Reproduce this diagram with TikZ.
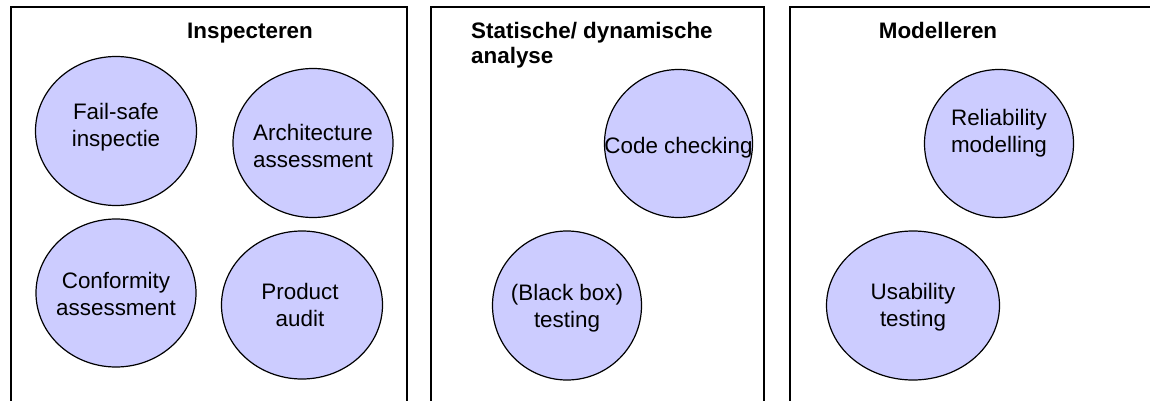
\documentclass[tikz,border=0pt]{standalone}
\usepackage{fontspec}
\setmainfont{Liberation Sans}
\usetikzlibrary{shapes.geometric}

\definecolor{bubblefill}{RGB}{204,204,255}

\begin{document}
\begin{tikzpicture}[x=1pt, y=-1pt, node distance=162pt]
		 \tikzstyle{panel} = [draw=black, line width=1.2pt];
		 \tikzstyle{bubble} = [ellipse, draw=black, line width=1.2pt, fill=bubblefill, inner sep=0pt, minimum width=160pt, minimum height=148pt];
		 \tikzstyle{bubbletext} = [align=center, inner sep=0pt, font=\fontsize{22.4}{27}\selectfont];
		 \tikzstyle{heading} = [inner sep=0pt, font=\fontsize{22.4}{25.5}\selectfont\bfseries];

		 \path [use as bounding box, fill=white] (0,0) rectangle (1150,401);
		 \clip (0,0) rectangle (1150,401);

		 \draw [panel] (11,7) rectangle (407,430);
		 \draw [panel] (431,7) rectangle (764,430);
		 \draw [panel] (790,7) rectangle (1180,430);

		 \node [heading, anchor=base]            (insp)  at (250,39)    {Inspecteren};
		 \node [heading, anchor=north west, align=left] (anal) at (471,21.6) {Statische/ dynamische\\analyse};
		 \node [heading, anchor=base]            (model) at (938,39)    {Modelleren};

		 \node [bubble, minimum width=161pt, minimum height=149pt] (failsafe) at (116,131) {};
		 \node [bubble]                     (conform) [below of = failsafe] {};
		 \node [bubble, minimum height=149pt] (arch) at (313,143) {};
		 \node [bubble, minimum width=161pt] (product) [below of = arch, xshift=-11pt] {};
		 \node [bubble, minimum width=148pt] (codecheck) at (678.5,143.5) {};
		 \node [bubble, minimum width=149pt, minimum height=149pt] (blackbox) [below of = codecheck, xshift=-111.5pt] {};
		 \node [bubble, minimum width=149pt] (reliab) at (999,143.5) {};
		 \node [bubble, minimum width=173pt, minimum height=149pt] (usab) [below of = reliab, xshift=-86pt] {};

		 \node [bubbletext, yshift=3.35pt]  (failsafe-t)  at (failsafe)  {Fail-safe\\inspectie};
		 \node [bubbletext, yshift=-1pt]    (conform-t)   at (conform)   {Conformity\\assessment};
		 \node [bubbletext, yshift=-2.9pt]  (arch-t)      at (arch)      {Architecture\\assessment};
		 \node [bubbletext, xshift=-2pt]    (product-t)   at (product)   {Product\\audit};
		 \node [bubbletext, yshift=-4.65pt] (codecheck-t) at (codecheck) {Code checking};
		 \node [bubbletext, yshift=-3.15pt] (blackbox-t)  at (blackbox)  {(Black box)\\testing};
		 \node [bubbletext, yshift=9.85pt]  (reliab-t)    at (reliab)    {Reliability\\modelling};
		 \node [bubbletext, yshift=-2.15pt] (usab-t)      at (usab)      {Usability\\testing};
	\end{tikzpicture}
\end{document}
